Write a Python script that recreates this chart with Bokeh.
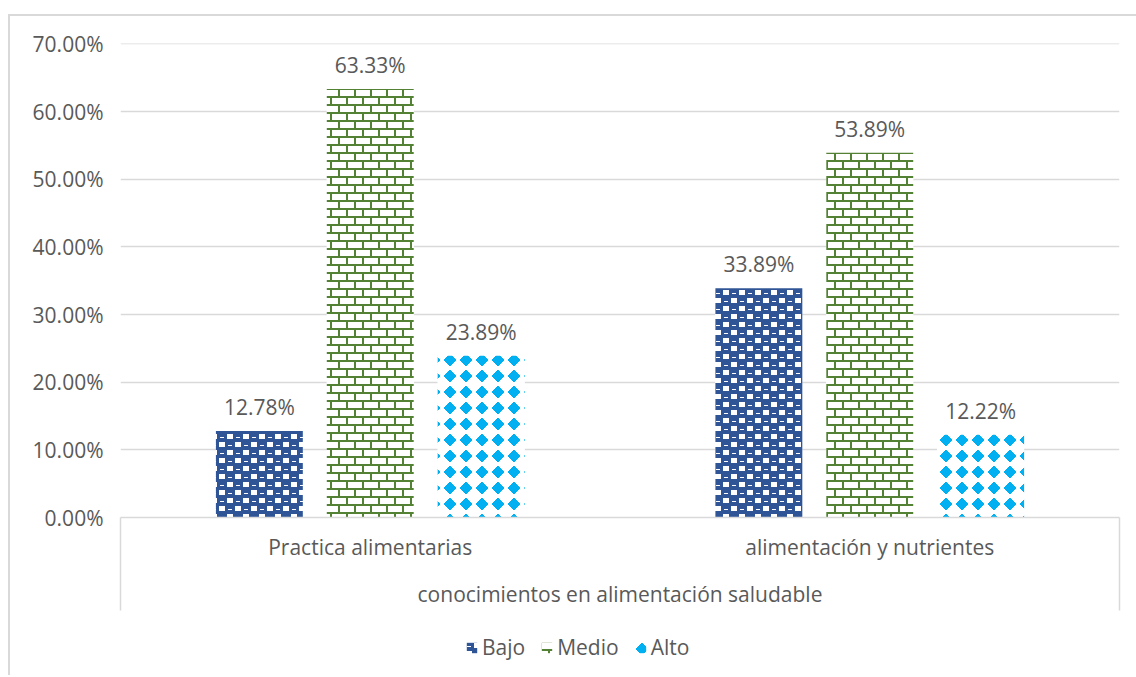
import base64
from bokeh.plotting import figure
from bokeh.layouts import column
from bokeh.models import (Range1d, FixedTicker, PrintfTickFormatter, ColumnDataSource,
                          LabelSet, Legend, LegendItem, ImageURLTexture)
from bokeh.core.properties import value
from bokeh.transform import dodge
from bokeh.embed import file_html
from bokeh.resources import INLINE

# ---------------- data ----------------
categories = ["Practica alimentarias", "alimentación y nutrientes"]
group_title = "conocimientos en alimentación saludable"
series = ["Bajo", "Medio", "Alto"]
bajo = [12.78, 33.89]
medio = [63.33, 53.89]
alto = [23.89, 12.22]
y_ticks = [0, 10, 20, 30, 40, 50, 60, 70]

# ---------------- styles ----------------
FONT = "Open Sans"
TEXT = "#595959"
GRID = "#D9D9D9"
colors = {"Bajo": "#2F5597", "Medio": "#548235", "Alto": "#00B0F0"}
offsets = {"Bajo": -0.444, "Medio": 0.0, "Alto": 0.444}
BAR_W = 0.348

tiles = {
    "Bajo": ("<rect width='16' height='16' fill='#2F5597'/>"
             "<rect x='9' y='2' width='6' height='5' fill='#FFFFFF'/>"
             "<rect x='1' y='10' width='6' height='5' fill='#FFFFFF'/>"
             "<rect x='2' y='5' width='4' height='1' fill='#FFFFFF'/>"
             "<rect x='10' y='13' width='4' height='1' fill='#FFFFFF'/>"),
    "Medio": ("<rect width='16' height='16' fill='#FFFFFF'/>"
              "<rect x='0' y='0' width='16' height='2' fill='#548235'/>"
              "<rect x='0' y='8' width='16' height='2' fill='#548235'/>"
              "<rect x='0' y='0' width='2' height='8' fill='#548235'/>"
              "<rect x='8' y='8' width='2' height='8' fill='#548235'/>"),
    "Alto": ("<rect width='16' height='16' fill='#FFFFFF'/>"
             "<polygon points='8,1.5 14.5,8 8,14.5 1.5,8' fill='#00B0F0'/>"),
}


def texture(body):
    svg = ("<svg xmlns='http://www.w3.org/2000/svg' width='16' height='16' "
           "shape-rendering='crispEdges'>" + body + "</svg>")
    b64 = base64.b64encode(svg.encode()).decode()
    return ImageURLTexture(url="data:image/svg+xml;base64," + b64)


textures = {s: texture(tiles[s]) for s in series}

n = len(categories)
centers = [2 * i + 1 for i in range(n)]
data = dict(x=centers, Bajo=bajo, Medio=medio, Alto=alto)
for s in series:
    data[s + "_lbl"] = [f"{v:.2f}%" for v in data[s]]
source = ColumnDataSource(data)

p = figure(width=1126, height=604, output_backend="svg", toolbar_location=None,
           x_range=Range1d(0, 2 * n), y_range=Range1d(0, 70.05),
           min_border_left=110, min_border_right=17, min_border_top=27,
           min_border_bottom=103)
p.outline_line_color = None

# y axis
p.yaxis.ticker = FixedTicker(ticks=y_ticks)
p.yaxis.formatter = PrintfTickFormatter(format="%.2f%%")
p.yaxis.axis_line_color = None
p.yaxis.major_tick_line_color = None
p.yaxis.minor_tick_line_color = None
p.yaxis.major_tick_out = 0
p.yaxis.major_label_standoff = 17
p.ygrid.grid_line_color = GRID
p.ygrid.grid_line_width = 1.3
p.xgrid.visible = False

# x axis (category labels + group title)
p.xaxis.ticker = FixedTicker(ticks=centers, minor_ticks=[0, 2 * n])
p.xaxis.major_label_overrides = {c: cat for c, cat in zip(centers, categories)}
p.xaxis.major_tick_line_color = None
p.xaxis.major_tick_out = 0
p.xaxis.major_tick_in = 0
p.xaxis.minor_tick_out = 93
p.xaxis.minor_tick_in = 0
p.xaxis.minor_tick_line_color = GRID
p.xaxis.minor_tick_line_width = 1.5
p.xaxis.axis_line_color = GRID
p.xaxis.axis_line_width = 1.3
p.xaxis.major_label_standoff = -78
p.xaxis.axis_label = group_title
p.xaxis.axis_label_standoff = 16

for ax in (p.xaxis, p.yaxis):
    ax.major_label_text_font = FONT
    ax.major_label_text_font_size = "21px"
    ax.major_label_text_color = TEXT
    ax.axis_label_text_font = FONT
    ax.axis_label_text_font_size = "21px"
    ax.axis_label_text_font_style = "normal"
    ax.axis_label_text_color = TEXT

for s in series:
    p.vbar(x=dodge("x", offsets[s], range=p.x_range), top=s, width=BAR_W,
           source=source, fill_color="white", line_color=None,
           hatch_pattern=value(s), hatch_extra={s: textures[s]},
           hatch_scale=16, hatch_color=colors[s])
    labels = LabelSet(x=dodge("x", offsets[s], range=p.x_range), y=s, text=s + "_lbl",
                      source=source, text_align="center", text_baseline="middle",
                      y_offset=24, text_font=value(FONT), text_font_size="21px",
                      text_color=TEXT)
    p.add_layout(labels)

# legend strip below the chart (its own renderers sit outside its visible y range)
p2 = figure(width=1126, height=55, output_backend="svg", toolbar_location=None,
            x_axis_location=None, y_axis_location=None,
            x_range=Range1d(0, 2 * n), y_range=Range1d(1000, 1001),
            min_border_left=0, min_border_right=0, min_border_top=0, min_border_bottom=0)
p2.outline_line_color = None
p2.grid.visible = False
items = []
for s in series:
    r = p2.vbar(x="x", top=s, width=BAR_W, source=source,
                fill_color="white", line_color=None,
                hatch_pattern=value(s), hatch_extra={s: textures[s]},
                hatch_scale=16, hatch_color=colors[s])
    items.append(LegendItem(label=s, renderers=[r]))
legend = Legend(items=items, orientation="horizontal", location=(345, 14),
                border_line_color=None, background_fill_alpha=0,
                label_text_font=FONT, label_text_font_size="21px",
                label_text_color=TEXT, glyph_width=13, glyph_height=13,
                label_standoff=4, spacing=15, padding=0, margin=0)
p2.add_layout(legend)

layout = column(p, p2, spacing=0, margin=(14, 0, 0, 8),
                styles={"border-top": "2px solid #D9D9D9",
                        "border-left": "2px solid #D9D9D9"})

open("out.html", "w").write(file_html(layout, INLINE))
